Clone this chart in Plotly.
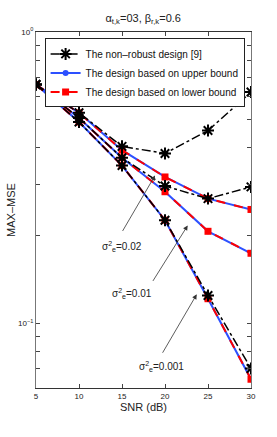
import math
import plotly.graph_objects as go

snr = [5, 10, 15, 20, 25, 30]

nonrobust_s002 = [0.66, 0.528, 0.405, 0.383, 0.459, 0.622]
nonrobust_s001 = [0.66, 0.507, 0.370, 0.296, 0.268, 0.294]
nonrobust_s0001 = [0.66, 0.491, 0.348, 0.226, 0.1247, 0.070]

upper_s002 = [0.66, 0.528, 0.393, 0.318, 0.268, 0.246]
upper_s001 = [0.66, 0.507, 0.370, 0.283, 0.207, 0.174]
upper_s0001 = [0.66, 0.491, 0.348, 0.226, 0.1215, 0.0643]

lower_s002 = [0.66, 0.528, 0.393, 0.318, 0.268, 0.246]
lower_s001 = [0.66, 0.507, 0.370, 0.283, 0.207, 0.174]
lower_s0001 = [0.66, 0.491, 0.348, 0.226, 0.1215, 0.0643]

y_tickvals = [0.06, 0.07, 0.08, 0.09, 0.1, 0.2, 0.3, 0.4, 0.5, 0.6, 0.7, 0.8, 0.9, 1.0]
y_ticktext = ["", "", "", "", "10<sup>\u22121</sup>", "", "", "", "", "", "", "", "", "10<sup>0</sup>"]
x_tickvals = [5, 10, 15, 20, 25, 30]

BLUE = "rgb(45,80,255)"
RED = "rgb(255,0,0)"

fig = go.Figure()

upper = [upper_s002, upper_s001, upper_s0001]
lower = [lower_s002, lower_s001, lower_s0001]
nonrob = [nonrobust_s002, nonrobust_s001, nonrobust_s0001]

for i, ys in enumerate(upper):
    fig.add_trace(go.Scatter(
        x=snr, y=ys, mode="lines+markers",
        name="The design based on upper bound", legendgroup="up",
        showlegend=(i == 0), legendrank=2,
        line=dict(color=BLUE, width=2),
        marker=dict(symbol="circle", size=6, color=BLUE),
    ))
for i, ys in enumerate(lower):
    fig.add_trace(go.Scatter(
        x=snr, y=ys, mode="lines+markers",
        name="The design based on lower bound", legendgroup="lo",
        showlegend=(i == 0), legendrank=3,
        line=dict(color=RED, width=2, dash="dash"),
        marker=dict(symbol="square", size=7, color=RED),
    ))
for i, ys in enumerate(nonrob):
    fig.add_trace(go.Scatter(
        x=snr, y=ys, mode="lines+markers",
        name="The non\u2013robust design [9]", legendgroup="nr",
        showlegend=(i == 0), legendrank=1,
        line=dict(color="black", width=1.5, dash="dashdot"),
        marker=dict(symbol="asterisk-open", size=10, color="black",
                    line=dict(color="black", width=2)),
    ))

# ellipses (y in log10 units for log axis)
ellipses = [
    (18.14, 19.30, -0.500, -0.390),
    (22.20, 23.69, -0.655, -0.546),
    (23.49, 24.85, -0.918, -0.832),
]
for x0, x1, y0, y1 in ellipses:
    fig.add_shape(type="circle", xref="x", yref="y", x0=x0, x1=x1, y0=y0, y1=y1,
                  line=dict(color="black", width=1, dash="dash"))

# arrows: (head x, head ylog, tail x, tail ylog)
arrows = [
    (18.84, -0.4926, 14.97, -0.688),
    (22.64, -0.664, 18.49, -0.8595),
    (23.69, -0.9005, 19.62, -1.106),
]
for hx, hy, tx, ty in arrows:
    fig.add_annotation(x=hx, y=hy, ax=tx, ay=ty, xref="x", yref="y",
                       axref="x", ayref="y", text="", showarrow=True,
                       arrowhead=2, arrowsize=1.2, arrowwidth=0.8,
                       arrowcolor="#333")

labels = [
    (14.97, -0.735, "\u03c3<sup>2</sup><sub>e</sub>=0.02"),
    (16.11, -0.899, "\u03c3<sup>2</sup><sub>e</sub>=0.01"),
    (19.62, -1.147, "\u03c3<sup>2</sup><sub>e</sub>=0.001"),
]
for lx, ly, t in labels:
    fig.add_annotation(x=lx, y=ly, xref="x", yref="y", text=t, showarrow=False,
                       font=dict(size=10, color="#222", family="Liberation Sans, Arial"))

fig.update_layout(
    width=277, height=437,
    margin=dict(l=36, r=26, t=32, b=49),
    paper_bgcolor="white", plot_bgcolor="white",
    font=dict(family="Liberation Sans, Arial", color="#222"),
    title=dict(text="\u03b1<sub>t,k</sub>=03, \u03b2<sub>r,k</sub>=0.6",
               x=0.517, xanchor="center", y=1 - 18 / 437, yanchor="middle",
               yref="container", font=dict(size=11, color="#222")),
    legend=dict(x=0.04, y=0.982, xanchor="left", yanchor="top",
                bgcolor="white", bordercolor="#222", borderwidth=1,
                font=dict(size=10, color="#111"), tracegroupgap=0,
                itemwidth=30),
    xaxis=dict(range=[5, 30], tickvals=x_tickvals, ticks="inside", ticklen=4,
               tickcolor="#444", showline=True, linecolor="#333", linewidth=1,
               mirror="allticks", showgrid=False, zeroline=False, automargin=False,
               tickfont=dict(size=8, color="#222"),
               title=dict(text="SNR (dB)", font=dict(size=11, color="#222"), standoff=1)),
    yaxis=dict(type="log", range=[math.log10(0.06), 0], tickvals=y_tickvals,
               ticktext=y_ticktext, ticks="inside", ticklen=4, tickcolor="#444",
               showline=True, linecolor="#777", linewidth=1, mirror="allticks",
               showgrid=False, zeroline=False, automargin=False,
               tickfont=dict(size=8, color="#222"),
               title=dict(text="MAX\u2013MSE", font=dict(size=11, color="#222"), standoff=0)),
)

fig.write_html("out.html", config={"displayModeBar": False},
               post_script="document.body.style.margin='0';")
